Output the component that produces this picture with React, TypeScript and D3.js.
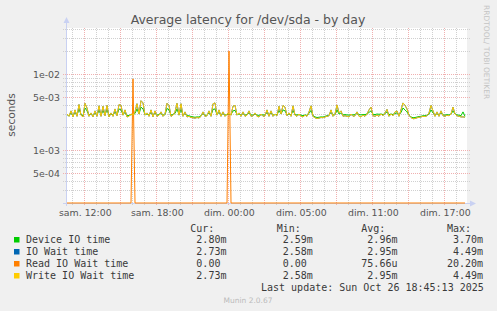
import React from "react";
import * as d3 from "d3";

// ---------- data ----------
const START_HOUR = -1.4417; // hours relative to "sam. 12:00"
const STEP_HOUR = 1 / 6; // 10 minutes

const deviceIOTime = [
  2.95, 2.85, 3.1, 2.85, 3.15, 2.9, 3.5, 2.95, 2.85, 3.6,
  3.3, 2.9, 3.0, 2.85, 3.1, 2.9, 3.4, 2.9, 3.35, 2.92,
  3.45, 2.88, 3.0, 2.9, 3.2, 2.92, 3.5, 3.4, 2.95, 3.15,
  2.85, 2.88, 2.95, 2.92, 3.05, 3.5, 3.0, 3.7, 3.5, 2.95,
  3.0, 2.9, 3.15, 2.88, 3.1, 2.9, 2.95, 3.05, 2.9, 2.95,
  3.55, 3.4, 2.9, 2.95, 3.05, 3.5, 2.95, 3.45, 2.9, 3.05,
  2.85, 2.85, 2.78, 2.75, 2.72, 2.75, 2.74, 2.85, 3.05, 2.88,
  2.9, 3.1, 2.88, 3.45, 3.5, 2.95, 3.15, 2.9, 3.05, 2.9,
  2.95, 3.0, 2.95, 3.3, 3.35, 2.95, 3.0, 2.9, 3.05, 2.9,
  2.95, 3.1, 2.92, 2.9, 3.0, 2.9, 2.88, 2.95, 2.92, 2.9,
  3.15, 2.9, 3.1, 2.9, 2.95, 2.92, 3.35, 3.0, 3.4, 3.3,
  2.92, 3.0, 2.9, 3.35, 2.95, 2.92, 2.95, 2.9, 2.85, 2.92,
  2.88, 3.05, 3.35, 2.85, 2.75, 2.7, 2.72, 2.75, 2.74, 2.8,
  2.85, 2.9, 3.15, 2.9, 2.95, 3.4, 3.0, 3.1, 2.92, 2.95,
  2.92, 2.9, 2.95, 2.92, 2.95, 3.05, 2.95, 2.92, 2.95, 2.95,
  3.0, 3.15, 3.3, 2.98, 2.95, 3.0, 2.98, 3.0, 2.95, 3.05,
  3.2, 2.95, 3.0, 2.95, 3.05, 3.1, 2.92, 3.15, 3.6, 3.4,
  3.2, 2.9, 2.75, 2.68, 2.7, 2.74, 2.78, 2.8, 2.85, 2.85,
  2.9, 3.0, 3.4, 3.1, 2.9, 3.05, 2.92, 3.1, 2.92, 2.9,
  2.95, 2.92, 2.98, 3.3, 3.0, 2.92, 2.9, 2.85, 3.2, 2.8,
];

const writeIOWaitTime = [
  3.0, 2.8, 3.3, 2.75, 3.4, 2.8, 4.0, 2.9, 2.75, 4.15,
  3.6, 2.8, 3.1, 2.75, 3.3, 2.8, 3.85, 2.8, 3.8, 2.85,
  3.9, 2.75, 3.1, 2.8, 3.5, 2.85, 4.0, 3.9, 2.9, 3.4,
  2.75, 2.8, 3.0, 2.9, 3.2, 4.1, 3.0, 4.49, 4.2, 2.9,
  3.1, 2.8, 3.4, 2.75, 3.3, 2.8, 2.9, 3.2, 2.8, 3.0,
  4.15, 3.9, 2.8, 2.9, 3.2, 4.15, 2.9, 4.1, 2.8, 3.2,
  2.75, 2.8, 2.7, 2.68, 2.65, 2.7, 2.66, 2.8, 3.2, 2.8,
  2.85, 3.3, 2.8, 4.1, 4.2, 2.9, 3.4, 2.8, 3.2, 2.8,
  3.0, 3.1, 2.9, 3.8, 3.9, 2.9, 3.1, 2.8, 3.2, 2.8,
  2.9, 3.3, 2.8, 2.85, 3.1, 2.8, 2.75, 3.0, 2.8, 2.85,
  3.4, 2.8, 3.3, 2.8, 3.0, 2.85, 3.8, 3.0, 3.9, 3.7,
  2.85, 3.1, 2.8, 3.85, 2.9, 2.8, 3.0, 2.8, 2.75, 2.9,
  2.8, 3.2, 3.85, 2.8, 2.68, 2.62, 2.65, 2.7, 2.68, 2.75,
  2.8, 2.85, 3.4, 2.8, 3.0, 3.95, 3.1, 3.3, 2.8, 2.85,
  2.8, 2.75, 3.0, 2.8, 2.85, 3.2, 2.8, 2.75, 2.9, 2.8,
  3.0, 3.4, 3.7, 2.85, 2.8, 2.9, 2.8, 3.0, 2.85, 3.1,
  3.45, 2.8, 3.0, 2.85, 3.2, 3.3, 2.8, 3.4, 4.2, 3.9,
  3.5, 2.9, 2.7, 2.6, 2.62, 2.68, 2.72, 2.75, 2.8, 2.78,
  2.85, 3.1, 3.9, 3.3, 2.8, 3.2, 2.8, 3.3, 2.85, 2.8,
  2.9, 2.85, 3.0, 3.7, 3.0, 2.85, 2.8, 2.75, 2.75, 2.73,
];

// IO wait equals write wait (identical legend stats)
const ioWaitTime = writeIOWaitTime.slice();

const readIOWaitTime = deviceIOTime.map((_, i) => (i === 33 ? 8.7 : i === 81 ? 20.2 : 0));

const xTickHours = [0, 6, 12, 18, 24, 30];
const xTickLabels = ["sam. 12:00", "sam. 18:00", "dim. 00:00", "dim. 05:00", "dim. 11:00", "dim. 17:00"];

const yTickValues = [1e-2, 5e-3, 1e-3, 5e-4];
const yTickLabels = ["1e-02", "5e-03", "1e-03", "5e-04"];

const seriesNames = ["Device IO time", "IO Wait time", "Read IO Wait time", "Write IO Wait time"];
const seriesColors = ["#00cc00", "#0066b3", "#ff8000", "#ffcc00"];
const curVals = ["2.80m", "2.73m", "0.00", "2.73m"];
const minVals = ["2.59m", "2.58m", "0.00", "2.58m"];
const avgVals = ["2.96m", "2.95m", "75.66u", "2.95m"];
const maxVals = ["3.70m", "4.49m", "20.20m", "4.49m"];

// ---------- layout ----------
const W = 497, H = 311;
const PL = 67, PR = 467, PT = 28, PB = 203;

const fmt = (s: string) => {
  const m = s.match(/^([\d.]+)(\D?)$/);
  if (!m) return s;
  return m[1].padStart(6, " ") + (m[2] || " ");
};

export default function App() {
  const times = deviceIOTime.map((_, i) => START_HOUR + i * STEP_HOUR);
  const x = d3.scaleLinear().domain([-17.3 / 12, 382.7 / 12]).range([PL, PR]);
  const y = d3.scaleLog().domain([2.025e-4, 4.066e-2]).range([PB, PT]).clamp(true);

  const line = d3
    .line<number>()
    .x((_, i) => x(times[i]))
    .y((v) => (v <= 0 ? PB : y(v * 1e-3)));

  const series = [deviceIOTime, ioWaitTime, readIOWaitTime, writeIOWaitTime];

  const minorY: { v: number; major: boolean }[] = [];
  for (let k = -4; k <= -2; k++) {
    for (let m = 1; m <= 9; m++) {
      const v = m * Math.pow(10, k);
      const [d0, d1] = y.domain();
      if (v >= d0 && v <= d1) minorY.push({ v, major: m === 1 || m === 5 });
    }
  }
  const hourGrid = d3.range(-1, 32);

  const snap = (p: number) => Math.round(p) + 0.5;

  const colStarts = [184.3, 270.7, 355.3, 441];
  const headers = ["Cur:", "Min:", "Avg:", "Max:"];
  const cols = [curVals, minVals, avgVals, maxVals];
  const rowBase = [243, 255, 267, 279];

  const axisColor = "#c9d1f2";
  const minorColor = "#d0d0d0";
  const majorColor = "#f0b0b0";

  return (
    <svg width={W} height={H} style={{ position: "absolute", left: 0, top: 0 }} xmlns="http://www.w3.org/2000/svg">
      <rect x={0} y={0} width={W} height={H} fill="#f0f0f0" />
      <text x={248} y={23.5} textAnchor="middle" fontFamily="DejaVu Sans" fontSize={12.5} fill="#555">
        Average latency for /dev/sda - by day
      </text>
      <text
        transform="translate(484,5) rotate(90)"
        fontFamily="DejaVu Sans"
        fontSize={7.5}
        fill="#c4c4c4"
      >
        RRDTOOL/ TOBI OETIKER
      </text>
      <rect x={PL} y={PT} width={PR - PL} height={PB - PT} fill="#ffffff" />

      {/* vertical grid */}
      {hourGrid.map((h) => {
        const px = x(h);
        if (px < PL || px > PR) return null;
        const major = h % 3 === 0;
        return (
          <line
            key={"v" + h}
            x1={snap(px)}
            x2={snap(px)}
            y1={PT}
            y2={major ? PB + 3 : PB + 2}
            stroke={major ? majorColor : minorColor}
            strokeDasharray="1,1"
          />
        );
      })}
      {/* horizontal grid */}
      {minorY.map((g, i) => (
        <line
          key={"h" + i}
          x1={63}
          x2={470}
          y1={snap(y(g.v))}
          y2={snap(y(g.v))}
          stroke={g.major ? majorColor : minorColor}
          strokeDasharray="1,1"
        />
      ))}

      {/* axes */}
      <line x1={PL - 0.5} x2={PL - 0.5} y1={22} y2={PB + 3} stroke={axisColor} />
      <path d={`M${PL - 3.5},${23} L${PL - 0.5},${17} L${PL + 2.5},${23} Z`} fill={axisColor} />
      <line x1={63} x2={472} y1={PB + 0.5} y2={PB + 0.5} stroke={axisColor} />
      <path d={`M${470},${PB - 2.5} L${476},${PB + 0.5} L${470},${PB + 3.5} Z`} fill={axisColor} />

      {/* y tick labels */}
      {yTickValues.map((v, i) => (
        <text
          key={"yl" + i}
          x={60}
          y={y(v) + 3.4}
          textAnchor="end"
          fontFamily="DejaVu Sans"
          fontSize={9.4}
          fill="#555"
        >
          {yTickLabels[i]}
        </text>
      ))}
      {/* x tick labels */}
      {xTickHours.map((h, i) => (
        <text
          key={"xl" + i}
          x={x(h) + 1}
          y={215.5}
          textAnchor="middle"
          fontFamily="DejaVu Sans"
          fontSize={9.4}
          fill="#555"
        >
          {xTickLabels[i]}
        </text>
      ))}
      <text
        transform="translate(14.5,115) rotate(-90)"
        textAnchor="middle"
        fontFamily="DejaVu Sans"
        fontSize={10.6}
        fill="#555"
      >
        seconds
      </text>

      {/* data lines */}
      <defs>
        <clipPath id="plotclip">
          <rect x={PL} y={PT - 2} width={PR - PL} height={PB - PT + 3} />
        </clipPath>
      </defs>
      <g clipPath="url(#plotclip)">
        {series.map((s, i) => (
          <path key={"s" + i} d={line(s) || ""} fill="none" stroke={seriesColors[i]} strokeWidth={1} />
        ))}
      </g>

      {/* legend */}
      <g fontFamily="DejaVu Sans Mono" fontSize={10} fill="#3a3a3a" style={{ whiteSpace: "pre" }}>
        {headers.map((hd, i) => (
          <text key={"hd" + i} x={colStarts[i] + 6} y={231.5}>
            {hd}
          </text>
        ))}
        {seriesNames.map((n, r) => (
          <g key={"row" + r}>
            <rect x={14} y={rowBase[r] - 6} width={5.5} height={5.5} fill={seriesColors[r]} />
            <text x={26} y={rowBase[r]}>
              {n}
            </text>
            {cols.map((c, ci) => (
              <text key={"c" + ci} x={colStarts[ci]} y={rowBase[r]} xmlSpace="preserve">
                {fmt(c[r])}
              </text>
            ))}
          </g>
        ))}
        <text x={261} y={291} xmlSpace="preserve">
          Last update: Sun Oct 26 18:45:13 2025
        </text>
      </g>
      <text x={248} y={302.5} textAnchor="middle" fontFamily="DejaVu Sans" fontSize={7.5} fill="#bbbbbb">
        Munin 2.0.67
      </text>
    </svg>
  );
}
